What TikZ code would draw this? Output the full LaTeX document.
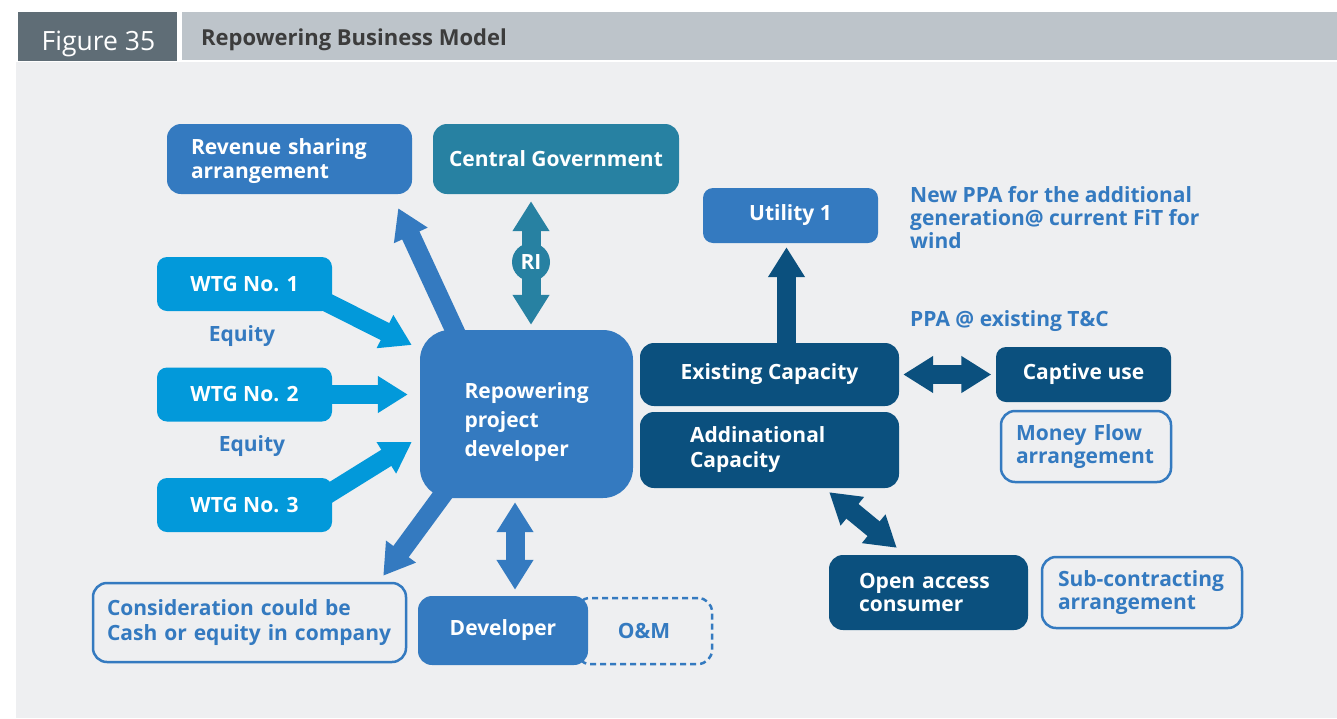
\documentclass[tikz,border=0pt]{standalone}
\usepackage{fontspec}
\setmainfont{Open Sans}
\usetikzlibrary{arrows.meta,calc}
\definecolor{figgray}{HTML}{5F6D76}
\definecolor{bargray}{HTML}{BDC4CA}
\definecolor{panelgray}{HTML}{EEEFF1}
\definecolor{midblue}{HTML}{347AC0}
\definecolor{govteal}{HTML}{2781A2}
\definecolor{wtgcyan}{HTML}{0299DA}
\definecolor{navy}{HTML}{0B507E}
\definecolor{inkdark}{HTML}{3C3C3C}
\newcommand\boxfont{\bfseries\fontsize{21}{24}\selectfont}
\newcommand\tightfont{\bfseries\fontsize{21}{23}\selectfont}
\hyphenpenalty=10000
\exhyphenpenalty=10000
\pgfdeclarelayer{panel}
\pgfdeclarelayer{links}
\pgfsetlayers{panel,links,main}

\begin{document}
\begin{tikzpicture}[x=1pt, y=-1pt,
  card/.style={rounded corners=14pt, font=\boxfont, text=white, inner sep=0pt, align=center},
  filled/.style={card, fill=#1},
  outlined/.style={card, draw=midblue, line width=2.5pt, text=midblue},
  note/.style={font=\boxfont, text=midblue, inner sep=0pt, align=left},
  fat/.style={line width=19pt, -{Triangle[length=30pt, width=35pt]}},
  fatboth/.style={line width=19pt, {Triangle[length=30pt, width=35pt]}-{Triangle[length=30pt, width=35pt]}}]
\useasboundingbox (0,0) rectangle (1337,718);
\begin{pgfonlayer}{panel}
\fill[white] (0,0) rectangle (1337,718);
\fill[panelgray] (16,62) rectangle (1337,718);
\fill[figgray] (18,12) rectangle (177,61);
\fill[bargray] (182,12) rectangle (1337,60);
\end{pgfonlayer}
\node[anchor=base, inner sep=0pt, text=white, font=\fontsize{26.5}{30}\selectfont] (fig) at (98.5,50) {Figure 35};
\node[anchor=base west, inner sep=0pt, text=inkdark, font=\bfseries\fontsize{22}{24}\selectfont] (title) at (201,45) {Repowering Business Model};

% left side
\node[filled=midblue, minimum width=245pt, minimum height=70pt, text width=197pt, align=left] (rev) at (289.5,159) {\rule{0pt}{21pt}Revenue sharing\\arrangement};
\node[filled=govteal, minimum width=246pt, minimum height=70pt] (gov) at (556,159) {Central Government};
\node[filled=wtgcyan, rounded corners=10pt, minimum width=175pt, minimum height=54pt] (wtg1) at (244.5,284) {WTG No. 1};
\node[filled=wtgcyan, rounded corners=10pt, minimum width=175pt, minimum height=54pt] (wtg2) at (244.5,394.5) {WTG No. 2};
\node[filled=wtgcyan, rounded corners=10pt, minimum width=175pt, minimum height=54pt] (wtg3) at (244.5,505) {WTG No. 3};
\node[note] (eq1) at (242,336) {Equity};
\node[note] (eq2) at (252,446) {Equity};
\node[filled=midblue, rounded corners=30pt, minimum width=213pt, minimum height=168pt, text width=124pt, align=left, font=\bfseries\fontsize{21}{29}\selectfont] (dev) at (526.5,414) {\rule{0pt}{32pt}Repowering\\project\\developer};
\node[circle, fill=govteal, minimum size=38pt, inner sep=0pt, font=\boxfont, text=white] (ri) at (531,262) {RI};
\node[outlined, minimum width=313pt, minimum height=79pt, text width=285pt, align=left, font=\bfseries\fontsize{21}{25}\selectfont] (cons) at (249.5,622.5) {Consideration could be\\Cash or equity in company};
\node[outlined, dash pattern=on 6pt off 4pt, minimum width=136pt, minimum height=66pt] (om) at (644,631) {O\&M};
\node[filled=midblue, minimum width=170pt, minimum height=69pt] (devr) at (503,630.5) {Developer};

% right side
\node[filled=navy, minimum width=259pt, minimum height=63pt] (ext) at (769.5,374.5) {Existing Capacity};
\node[filled=navy, minimum width=259pt, minimum height=76pt, text width=159pt, align=left, font=\bfseries\fontsize{21}{25}\selectfont] (add) at (769.5,450) {Addinational\\Capacity};
\node[filled=midblue, rounded corners=10pt, minimum width=175pt, minimum height=55pt] (util) at (790.5,215.5) {Utility 1};
\node[note, anchor=north west, font=\tightfont] (newppa) at (910,186) {New PPA for the additional\\generation@ current FiT for\\wind};
\node[note, anchor=west] (ppa) at (910,321) {PPA @ existing T\&C};
\node[filled=navy, rounded corners=10pt, minimum width=175pt, minimum height=55pt] (cap) at (1083.5,374.5) {Captive use};
\node[outlined, minimum width=170pt, minimum height=71pt, text width=140pt, align=left, font=\tightfont] (money) at (1086,446.5) {Money Flow\\arrangement};
\node[filled=navy, minimum width=199pt, minimum height=75pt, text width=139pt, align=left, font=\tightfont] (oac) at (928.5,592.5) {Open access\\consumer};
\node[outlined, minimum width=200pt, minimum height=71pt, text width=168pt, align=left, font=\tightfont] (sub) at (1142,592.5) {Sub-contracting\\arrangement};

\begin{pgfonlayer}{links}
\draw[fat, midblue] ($(dev.north west)+(43,18)$) -- ($(rev.south east)+(-14,14)$);
\draw[fatboth, govteal, shorten <=7pt, shorten >=5pt] (ri |- gov.south) -- (ri |- dev.north);
\draw[fat, wtgcyan] ($(wtg1.east)+(-30,6)$) -- ($(dev.west)+(-8,-69)$);
\draw[fat, wtgcyan] ($(wtg2.east)+(-10,0)$) -- ($(dev.west |- wtg2.east)+(-12,0)$);
\draw[fat, wtgcyan] ($(wtg3.east)+(-17,-3)$) -- ($(dev.west)+(-8,28)$);
\draw[fat, midblue] ($(dev.south west)+(30,-13)$) -- ($(cons.north east)+(-24,-6)$);
\draw[fatboth, midblue, shorten <=4pt, shorten >=6pt] ($(dev.south)+(-11.5,0)$) -- ($(devr.north)+(12,0)$);
\draw[fat, navy] ($(ext.north)+(17,10)$) -- ($(util.south)+(-4,4)$);
\draw[fatboth, navy, shorten <=4pt, shorten >=4.5pt] (ext.east) -- (cap.west);
\draw[fatboth, navy] ($(add.south east)+(-70,4)$) -- ($(oac.north west)+(68,-7)$);
\end{pgfonlayer}
\end{tikzpicture}
\end{document}
